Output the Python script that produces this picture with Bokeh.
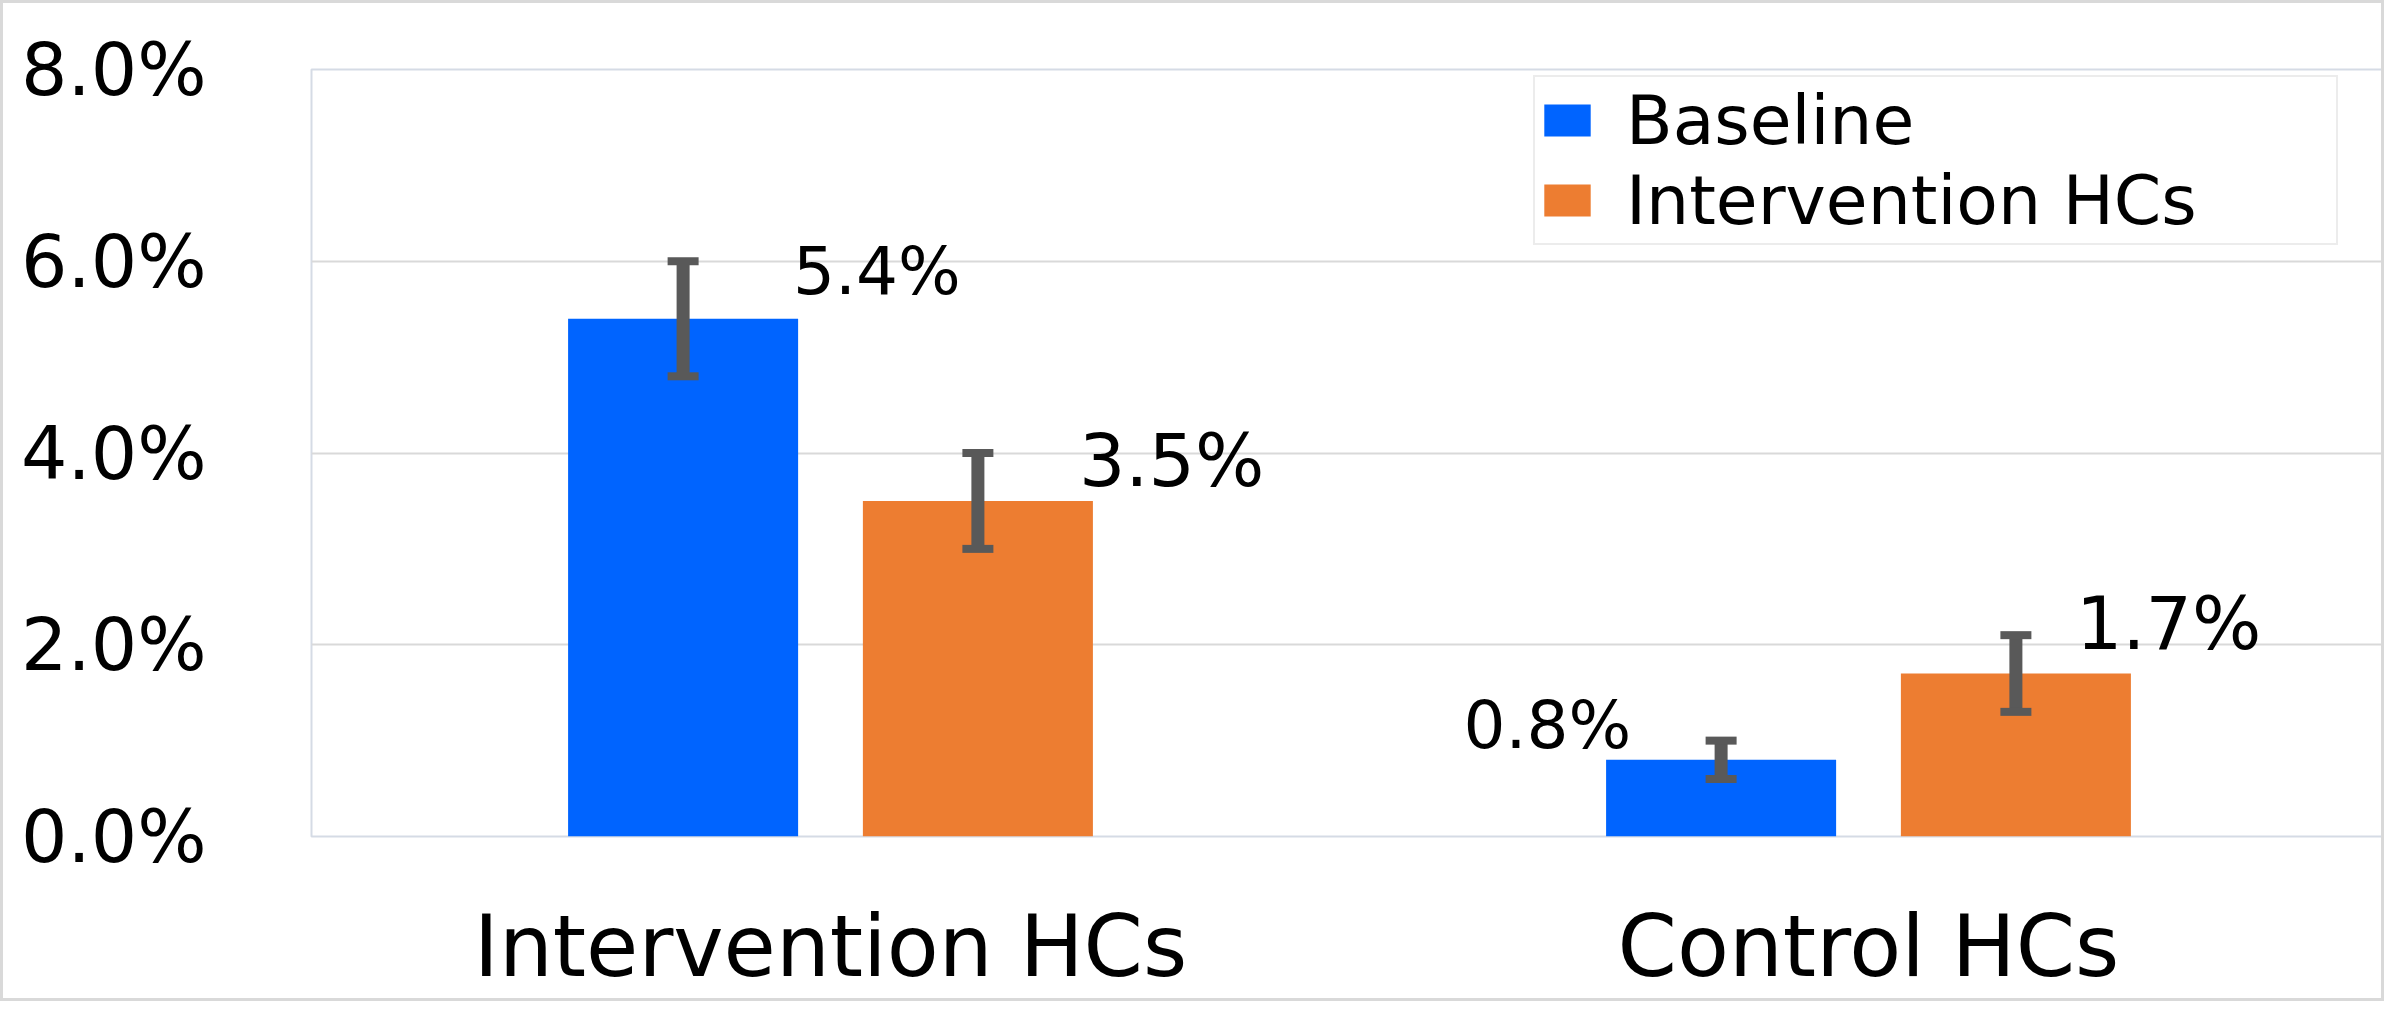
from bokeh.plotting import figure
from bokeh.models import ColumnDataSource, NumeralTickFormatter, FixedTicker, Legend, LegendItem, FactorRange, Range1d
from bokeh.transform import dodge
from bokeh.core.properties import value
from bokeh.embed import file_html
from bokeh.resources import INLINE

# ---- data ----
categories = ["Intervention HCs", "Control HCs"]
series_names = ["Baseline", "Intervention HCs"]
baseline = [0.054, 0.008]
baseline_lo = [0.048, 0.006]
baseline_hi = [0.060, 0.010]
intervention = [0.035, 0.017]
intervention_lo = [0.030, 0.013]
intervention_hi = [0.040, 0.021]
y_ticks = [0.0, 0.02, 0.04, 0.06, 0.08]

# ---- style / layout ----
BLUE = "#0064FF"
ORANGE = "#ED7D31"
GRAY = "#595959"
FONT = "DejaVu Sans"
BAR_W = 0.2216
DODGE = 0.142

p = figure(
    width=2384, height=1001,
    x_range=FactorRange(*categories, range_padding=0.0),
    y_range=Range1d(0, 0.08),
    output_backend="svg", toolbar_location=None,
    min_border_left=308, min_border_top=66, min_border_bottom=168, min_border_right=0,
)
p.styles = {"border": "3px solid #d9d9d9"}
p.x_range.factor_padding = 0.0
p.x_range.group_padding = 0.0

p.outline_line_color = "#d5dbe5"
p.outline_line_width = 2
p.xgrid.grid_line_color = None
p.ygrid.grid_line_color = "#d9d9d9"
p.ygrid.grid_line_width = 2

p.yaxis.ticker = FixedTicker(ticks=y_ticks)
p.yaxis.formatter = NumeralTickFormatter(format="0.0%")
p.yaxis.minor_tick_line_color = None
for ax in (p.xaxis, p.yaxis):
    ax.axis_line_color = None
    ax.major_tick_line_color = None
    ax.major_tick_in = 0
    ax.major_tick_out = 0
    ax.major_label_text_font = FONT
    ax.major_label_text_color = "#000000"
p.yaxis.major_label_text_font_size = "73px"
p.yaxis.major_label_standoff = 105
p.xaxis.major_label_text_font_size = "85px"
p.xaxis.major_label_standoff = 60

def fmt(v):
    return f"{v * 100:.1f}%"

src_b = ColumnDataSource(dict(cat=categories, val=baseline, lo=baseline_lo, hi=baseline_hi,
                              lab=[fmt(v) for v in baseline]))
src_o = ColumnDataSource(dict(cat=categories, val=intervention, lo=intervention_lo, hi=intervention_hi,
                              lab=[fmt(v) for v in intervention]))

renderers = []
for src, off, col in ((src_b, -DODGE, BLUE), (src_o, DODGE, ORANGE)):
    xd = dodge("cat", off, range=p.x_range)
    r = p.vbar(x=xd, top="val", width=BAR_W, source=src, fill_color=col, line_color=None)
    renderers.append(r)
    p.segment(x0=xd, y0="lo", x1=xd, y1="hi", source=src, line_color=GRAY, line_width=13, line_cap="butt")
    for fld in ("lo", "hi"):
        p.rect(x=xd, y=fld, width=31, height=8, width_units="screen", height_units="screen",
               source=src, fill_color=GRAY, line_color=None)

# data labels: (series index, category index, x offset px, y offset px, align, font size)
label_layout = [
    (0, 0, 110, -47, "left", "66px"),
    (1, 0, 101, -40, "left", "73px"),
    (0, 1, -90, -34, "right", "66px"),
    (1, 1, 60, -50, "left", "73px"),
]
series_vals = [baseline, intervention]
offsets = [-DODGE, DODGE]
for si, ci, dx, dy, align, fs in label_layout:
    v = series_vals[si][ci]
    s = ColumnDataSource(dict(cat=[categories[ci]], val=[v], lab=[fmt(v)]))
    p.text(x=dodge("cat", offsets[si], range=p.x_range), y="val", text="lab", source=s,
           x_offset=dx, y_offset=dy, text_align=align, text_baseline="alphabetic",
           text_font=value(FONT), text_font_size=fs, text_color="#000000")

legend = Legend(
    items=[LegendItem(label=series_names[0], renderers=[renderers[0]]),
           LegendItem(label=series_names[1], renderers=[renderers[1]])],
    location=(1222, 591),
    padding=3, margin=0, spacing=0,
    glyph_width=58, glyph_height=40,
    label_standoff=30, label_width=707, label_height=80,
    label_text_font=FONT, label_text_font_size="68px", label_text_color="#000000",
    border_line_color="#d9d9d9", border_line_width=2,
    background_fill_color="white", background_fill_alpha=1.0,
)
p.add_layout(legend)

open("out.html", "w").write(file_html(p, INLINE))
